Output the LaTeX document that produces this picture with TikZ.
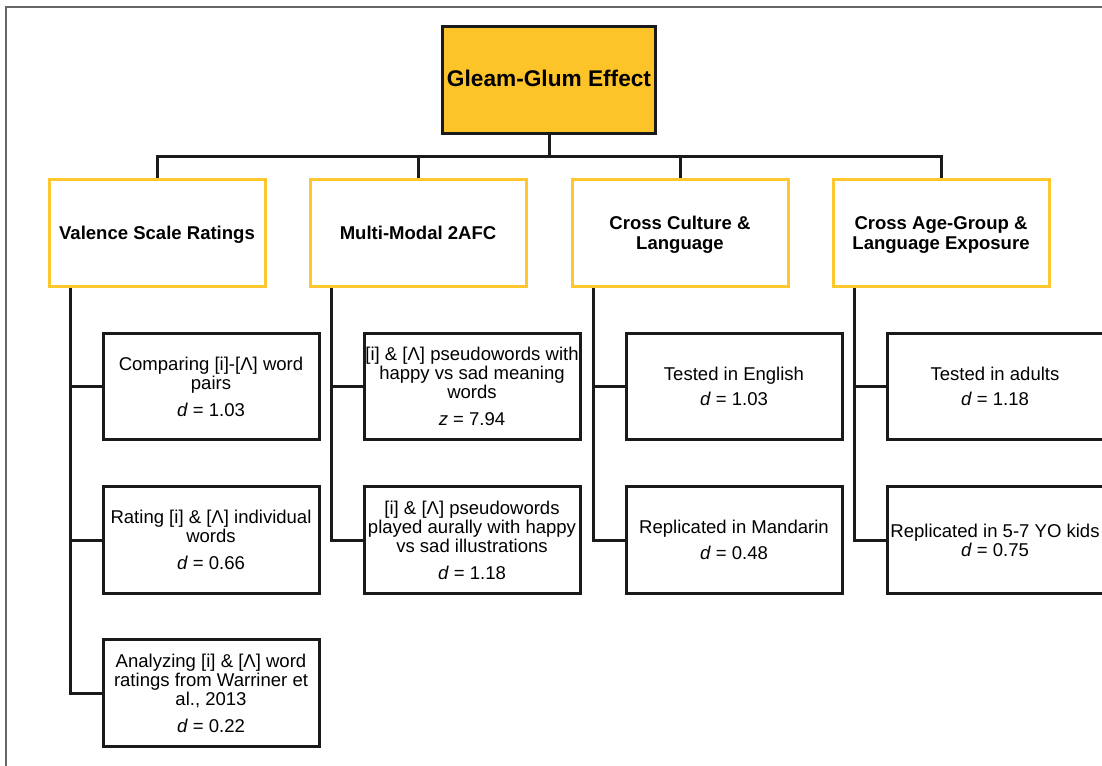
\documentclass[tikz,border=0pt]{standalone}
\usepackage{fontspec}
\setmainfont{Liberation Sans}
\definecolor{gold}{RGB}{252,196,40}
\definecolor{goldline}{RGB}{253,199,45}
\definecolor{ink}{RGB}{26,26,26}
\begin{document}
\begin{tikzpicture}[x=0.75pt,y=-0.75pt,
  rootbox/.style={draw=ink, fill=gold, line width=2.25pt, minimum width=160pt, minimum height=80pt, inner sep=0pt, align=center, font=\fontsize{17}{20}\selectfont\bfseries},
  catbox/.style={draw=goldline, fill=white, line width=2.25pt, minimum width=162pt, minimum height=80pt, inner sep=0pt, text depth=0pt, align=center, font=\fontsize{13.9}{15}\selectfont\bfseries},
  leafbox/.style={draw=ink, fill=white, line width=2.25pt, minimum width=162pt, minimum height=80pt, inner sep=0pt, align=center, font=\fontsize{13.9}{14.3}\selectfont},
  link/.style={draw=ink, line width=2.25pt},
  frame/.style={draw=black!60, line width=0.9pt}]
\clip (0,0) rectangle (1102,765);
\draw[frame] (6,770) -- (6,7) -- (1110,7);

\node[rootbox, text depth=3pt] (root) at (549,80) {Gleam-Glum Effect};
\node[catbox] (ca) at (157,233) {Valence Scale Ratings};
\node[catbox] (cb) at (418,233) {Multi-Modal 2AFC};
\node[catbox] (cc) at (680,233) {Cross Culture \&\\Language};
\node[catbox] (cd) at (941,233) {Cross Age-Group \&\\Language Exposure};

\node[leafbox] (a1) at (211,386.5) {Comparing [i]-[Λ] word\\pairs\\[6pt]\textit{d} = 1.03};
\node[leafbox] (a2) at (211,540) {Rating [i] \& [Λ] individual\\words\\[6pt]\textit{d} = 0.66};
\node[leafbox] (a3) at (211,693) {Analyzing [i] \& [Λ] word\\ratings from Warriner et\\al., 2013\\[6pt]\textit{d} = 0.22};
\node[leafbox] (b1) at (472,386.5) {[i] \& [Λ] pseudowords with\\happy vs sad meaning\\words\\[6pt]\textit{z} = 7.94};
\node[leafbox] (b2) at (472,540) {[i] \& [Λ] pseudowords\\played aurally with happy\\vs sad illustrations\\[6pt]\textit{d} = 1.18};
\node[leafbox] (c1) at (734,386.5) {Tested in English\\[5pt]\textit{d} = 1.03};
\node[leafbox] (c2) at (734,540) {Replicated in Mandarin\\[5pt]\textit{d} = 0.48};
\node[leafbox] (d1) at (995,386.5) {Tested in adults\\[5pt]\textit{d} = 1.18};
\node[leafbox] (d2) at (995,540) {Replicated in 5-7 YO kids\\\textit{d} = 0.75};

\coordinate (bar) at (549,156);
\draw[link] (root.south) -- (bar);
\foreach \n in {ca,cb,cc,cd} \draw[link] (\n.north) |- (bar);

\draw[link] ([xshift=17.5pt]ca.south west) |- (a1.west);
\draw[link] ([xshift=17.5pt]ca.south west) |- (a2.west);
\draw[link] ([xshift=17.5pt]ca.south west) |- (a3.west);
\draw[link] ([xshift=17.5pt]cb.south west) |- (b1.west);
\draw[link] ([xshift=17.5pt]cb.south west) |- (b2.west);
\draw[link] ([xshift=17.5pt]cc.south west) |- (c1.west);
\draw[link] ([xshift=17.5pt]cc.south west) |- (c2.west);
\draw[link] ([xshift=17.5pt]cd.south west) |- (d1.west);
\draw[link] ([xshift=17.5pt]cd.south west) |- (d2.west);
\end{tikzpicture}
\end{document}
